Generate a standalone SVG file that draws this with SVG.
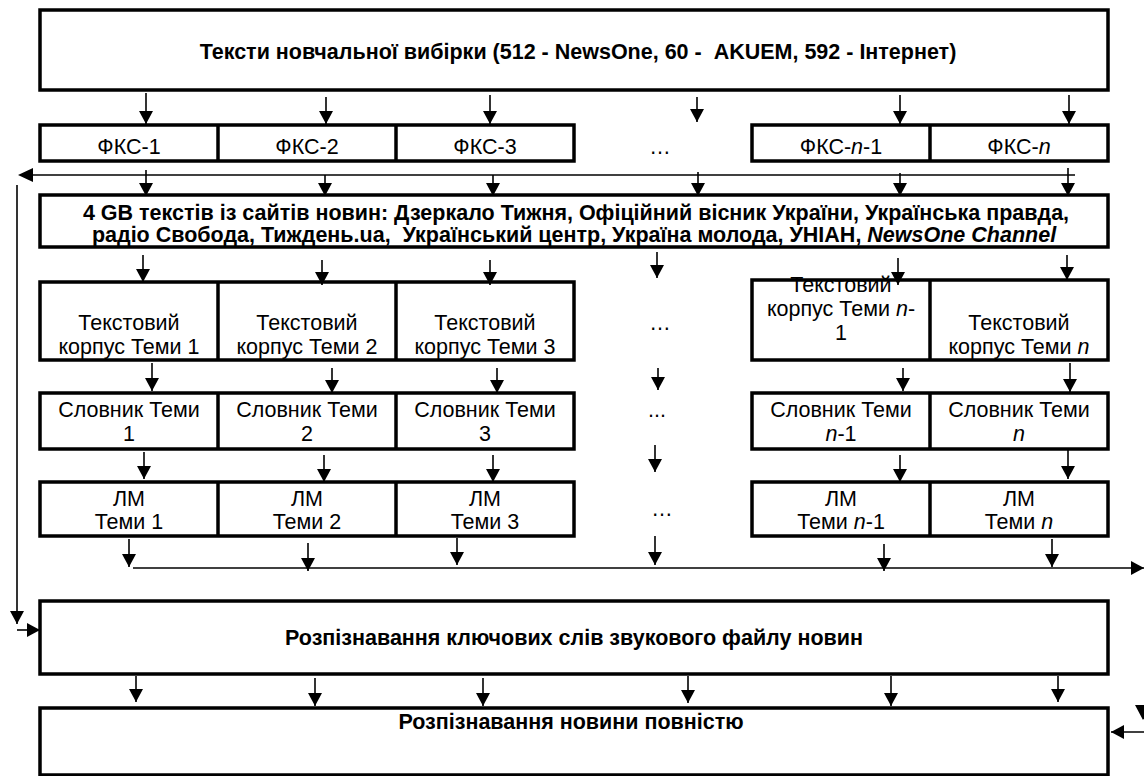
<svg xmlns="http://www.w3.org/2000/svg" width="1144" height="776" viewBox="0 0 1144 776">
<style>
.box{fill:#fff;stroke:#000;stroke-width:3.5}
.div{stroke:#000;stroke-width:3.5}
.t{font-family:"Liberation Sans",Arial,sans-serif;font-size:21.5px;fill:#000;text-anchor:middle}
.b{font-weight:bold}
.c line{stroke:#000;stroke-width:1.6;fill:none}
.c .a{marker-end:url(#ah)}
</style>
<defs>
<marker id="ah" markerUnits="userSpaceOnUse" markerWidth="14" markerHeight="14" refX="13" refY="7" orient="auto">
<path d="M0,0 L13,7 L0,14 z" fill="#000"/>
</marker>
</defs>
<rect width="1144" height="776" fill="#fff"/>

<g id="n-top">
<rect class="box" x="40" y="10" width="1068" height="80"/>
<text class="t b" x="578" y="59">Тексти новчальної вибірки (512 - NewsOne, 60 - &#160;AKUEM, 592 - Інтернет)</text>
</g>

<g id="n-fks">
<rect class="box" x="40" y="125" width="534" height="36"/>
<line class="div" x1="218" y1="125" x2="218" y2="161"/>
<line class="div" x1="396" y1="125" x2="396" y2="161"/>
<text class="t" x="129" y="154">ФКС-1</text>
<text class="t" x="307" y="154">ФКС-2</text>
<text class="t" x="485" y="154">ФКС-3</text>
<text class="t" x="660" y="154">…</text>
<rect class="box" x="752" y="125" width="356" height="36"/>
<line class="div" x1="930" y1="125" x2="930" y2="161"/>
<text class="t" x="841" y="154">ФКС-<tspan font-style="italic">n</tspan>-1</text>
<text class="t" x="1019" y="154">ФКС-<tspan font-style="italic">n</tspan></text>
</g>

<g id="n-4gb">
<rect class="box" x="40" y="195" width="1068" height="52"/>
<text class="t b" x="576" y="219.5">4 GB текстів із сайтів новин: Дзеркало Тижня, Офіційний вісник України, Українська правда,</text>
<text class="t b" x="574" y="242">радіо Свобода, Тиждень.ua, &#160;Український центр, Україна молода, УНІАН, <tspan font-style="italic">NewsOne Channel</tspan></text>
</g>

<g id="n-corpus">
<rect class="box" x="40" y="282" width="534" height="78"/>
<line class="div" x1="218" y1="282" x2="218" y2="360"/>
<line class="div" x1="396" y1="282" x2="396" y2="360"/>
<text class="t" x="129" y="330">Текстовий</text>
<text class="t" x="129" y="354">корпус Теми 1</text>
<text class="t" x="307" y="330">Текстовий</text>
<text class="t" x="307" y="354">корпус Теми 2</text>
<text class="t" x="485" y="330">Текстовий</text>
<text class="t" x="485" y="354">корпус Теми 3</text>
<text class="t" x="660" y="330">…</text>
<rect class="box" x="752" y="280" width="356" height="80"/>
<line class="div" x1="930" y1="280" x2="930" y2="360"/>
<text class="t" x="841" y="292">Текстовий</text>
<text class="t" x="841" y="316">корпус Теми <tspan font-style="italic">n</tspan>-</text>
<text class="t" x="841" y="340">1</text>
<text class="t" x="1019" y="330">Текстовий</text>
<text class="t" x="1019" y="354">корпус Теми <tspan font-style="italic">n</tspan></text>
</g>

<g id="n-slovnyk">
<rect class="box" x="40" y="393" width="534" height="56"/>
<line class="div" x1="218" y1="393" x2="218" y2="449"/>
<line class="div" x1="396" y1="393" x2="396" y2="449"/>
<text class="t" x="129" y="417">Словник Теми</text>
<text class="t" x="129" y="441">1</text>
<text class="t" x="307" y="417">Словник Теми</text>
<text class="t" x="307" y="441">2</text>
<text class="t" x="485" y="417">Словник Теми</text>
<text class="t" x="485" y="441">3</text>
<text class="t" x="657" y="417">...</text>
<rect class="box" x="752" y="393" width="356" height="56"/>
<line class="div" x1="930" y1="393" x2="930" y2="449"/>
<text class="t" x="841" y="417">Словник Теми</text>
<text class="t" x="841" y="441"><tspan font-style="italic">n</tspan>-1</text>
<text class="t" x="1019" y="417">Словник Теми</text>
<text class="t" x="1019" y="441"><tspan font-style="italic">n</tspan></text>
</g>

<g id="n-lm">
<rect class="box" x="40" y="482" width="534" height="54"/>
<line class="div" x1="218" y1="482" x2="218" y2="536"/>
<line class="div" x1="396" y1="482" x2="396" y2="536"/>
<text class="t" x="129" y="506">ЛМ</text>
<text class="t" x="129" y="529">Теми 1</text>
<text class="t" x="307" y="506">ЛМ</text>
<text class="t" x="307" y="529">Теми 2</text>
<text class="t" x="485" y="506">ЛМ</text>
<text class="t" x="485" y="529">Теми 3</text>
<text class="t" x="662" y="516">…</text>
<rect class="box" x="752" y="482" width="356" height="54"/>
<line class="div" x1="930" y1="482" x2="930" y2="536"/>
<text class="t" x="841" y="506">ЛМ</text>
<text class="t" x="841" y="529">Теми <tspan font-style="italic">n</tspan>-1</text>
<text class="t" x="1019" y="506">ЛМ</text>
<text class="t" x="1019" y="529">Теми <tspan font-style="italic">n</tspan></text>
</g>

<g id="n-keywords">
<rect class="box" x="40" y="601" width="1068" height="73"/>
<text class="t b" x="574" y="645">Розпізнавання ключових слів звукового файлу новин</text>
</g>

<g id="n-full">
<rect class="box" x="40" y="708" width="1068" height="67"/>
<text class="t b" x="571" y="729">Розпізнавання новини повністю</text>
</g>

<g id="connectors" class="c">
<line class="a" x1="146" y1="93" x2="146" y2="124"/>
<line class="a" x1="326" y1="97" x2="326" y2="124"/>
<line class="a" x1="490" y1="95" x2="490" y2="124"/>
<line class="a" x1="697" y1="97" x2="697" y2="122"/>
<line class="a" x1="900" y1="95" x2="900" y2="124"/>
<line class="a" x1="1069" y1="95" x2="1069" y2="124"/>

<line x1="1075" y1="175" x2="33" y2="175"/>
<polygon points="18,175 33,168 33,182" fill="#000"/>
<line class="a" x1="146" y1="170" x2="146" y2="196"/>
<line class="a" x1="325" y1="175" x2="325" y2="196"/>
<line class="a" x1="493" y1="175" x2="493" y2="196"/>
<line class="a" x1="698" y1="172" x2="698" y2="196"/>
<line class="a" x1="900" y1="173" x2="900" y2="196"/>
<line class="a" x1="1068" y1="168" x2="1068" y2="196"/>

<line class="a" x1="143" y1="255" x2="143" y2="282"/>
<line class="a" x1="322" y1="260" x2="322" y2="285"/>
<line class="a" x1="490" y1="260" x2="490" y2="285"/>
<line class="a" x1="657" y1="252" x2="657" y2="278"/>
<line class="a" x1="898" y1="258" x2="898" y2="285"/>
<line class="a" x1="1067" y1="255" x2="1067" y2="280"/>

<line class="a" x1="152" y1="363" x2="152" y2="391"/>
<line class="a" x1="332" y1="368" x2="332" y2="393"/>
<line class="a" x1="497" y1="368" x2="497" y2="393"/>
<line class="a" x1="658" y1="368" x2="658" y2="390"/>
<line class="a" x1="903" y1="368" x2="903" y2="391"/>
<line class="a" x1="1070" y1="363" x2="1070" y2="392"/>

<line class="a" x1="144" y1="452" x2="144" y2="479"/>
<line class="a" x1="324" y1="455" x2="324" y2="482"/>
<line class="a" x1="493" y1="455" x2="493" y2="482"/>
<line class="a" x1="655" y1="445" x2="655" y2="472"/>
<line class="a" x1="900" y1="455" x2="900" y2="482"/>
<line class="a" x1="1068" y1="450" x2="1068" y2="479"/>

<line class="a" x1="129" y1="539" x2="129" y2="567"/>
<line class="a" x1="308" y1="543" x2="308" y2="571"/>
<line class="a" x1="457" y1="538" x2="457" y2="565"/>
<line class="a" x1="655" y1="536" x2="655" y2="565"/>
<line class="a" x1="884" y1="544" x2="884" y2="571"/>
<line class="a" x1="1052" y1="539" x2="1052" y2="567"/>
<line class="a" x1="133" y1="568" x2="1144" y2="568"/>

<line class="a" x1="17" y1="185" x2="17" y2="624"/>
<line class="a" x1="17" y1="630" x2="40" y2="630"/>

<line class="a" x1="136" y1="676" x2="136" y2="702"/>
<line class="a" x1="315" y1="678" x2="315" y2="706"/>
<line class="a" x1="483" y1="678" x2="483" y2="706"/>
<line class="a" x1="688" y1="676" x2="688" y2="703"/>
<line class="a" x1="891" y1="676" x2="891" y2="706"/>
<line class="a" x1="1058" y1="676" x2="1058" y2="702"/>

<line class="a" x1="1144" y1="732" x2="1111" y2="732"/>
<polygon points="1135,705 1151,705 1143,720" fill="#000"/>
</g>
</svg>
